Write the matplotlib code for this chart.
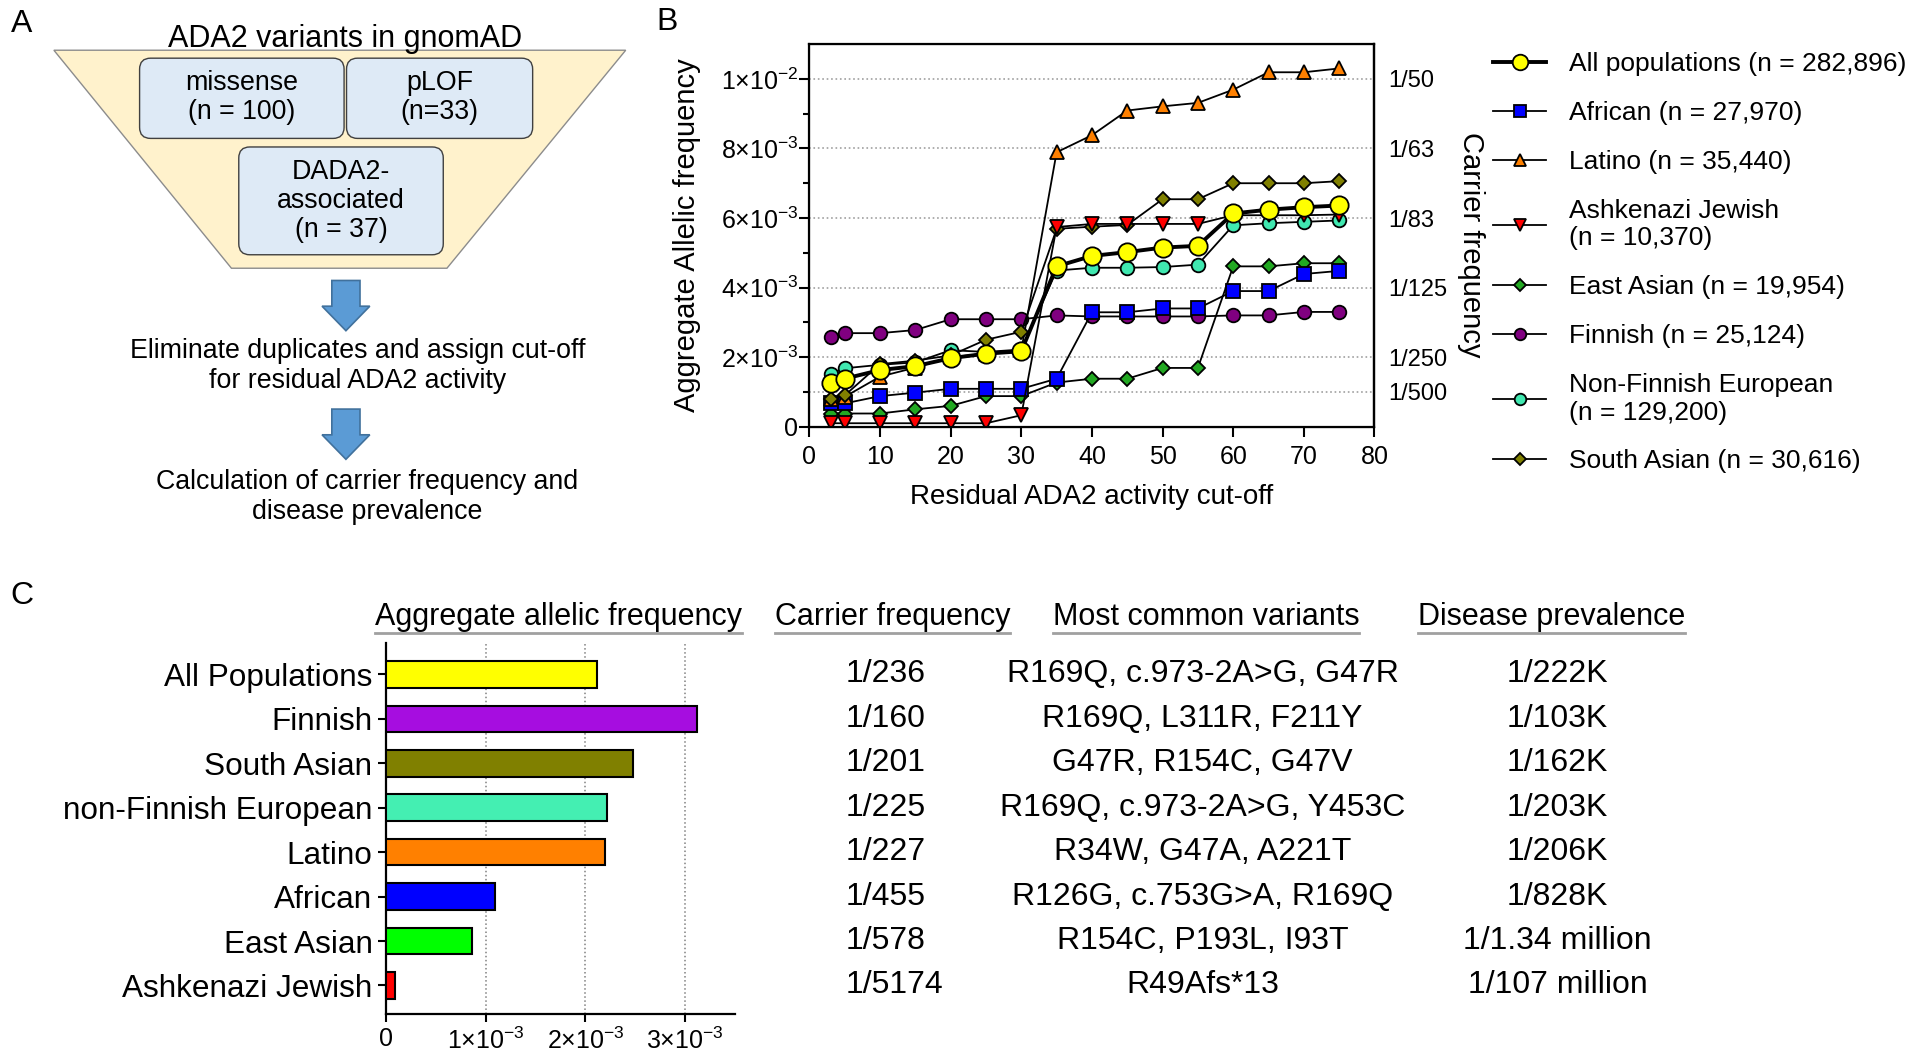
import matplotlib
matplotlib.use('Agg')
import matplotlib.pyplot as plt
import matplotlib.transforms as mtransforms
from matplotlib.patches import Polygon, FancyBboxPatch
from matplotlib.lines import Line2D

plt.rcParams['font.family'] = ['Liberation Sans', 'DejaVu Sans']
plt.rcParams['mathtext.default'] = 'regular'

# ---------------- panel B data (aggregate allelic frequency, x1e-3)
cutoff = [3, 5, 10, 15, 20, 25, 30, 35, 40, 45, 50, 55, 60, 65, 70, 75]
af_all = [1.27, 1.38, 1.63, 1.74, 1.97, 2.10, 2.17, 4.61, 4.91, 5.02, 5.15, 5.20, 6.13, 6.24, 6.31, 6.36]
af_afr = [0.67, 0.67, 0.88, 0.98, 1.09, 1.09, 1.09, 1.38, 3.29, 3.29, 3.40, 3.40, 3.90, 3.90, 4.39, 4.48]
af_lat = [0.80, 0.86, 1.44, 1.70, 2.00, 2.10, 2.20, 7.89, 8.38, 9.09, 9.21, 9.31, 9.69, 10.19, 10.19, 10.30]
af_asj = [0.10, 0.10, 0.10, 0.10, 0.10, 0.10, 0.33, 5.74, 5.83, 5.83, 5.83, 5.83, 6.08, 6.08, 6.08, 6.10]
af_eas = [0.38, 0.38, 0.38, 0.50, 0.60, 0.88, 0.88, 1.27, 1.38, 1.38, 1.69, 1.69, 4.61, 4.61, 4.70, 4.70]
af_fin = [2.59, 2.69, 2.69, 2.78, 3.09, 3.09, 3.09, 3.20, 3.17, 3.17, 3.17, 3.17, 3.20, 3.20, 3.30, 3.30]
af_nfe = [1.52, 1.68, 1.78, 1.85, 2.20, 2.15, 2.22, 4.49, 4.57, 4.57, 4.59, 4.66, 5.79, 5.85, 5.89, 5.93]
af_sas = [0.80, 0.90, 1.80, 1.90, 2.05, 2.50, 2.73, 5.69, 5.75, 5.80, 6.54, 6.54, 7.00, 7.00, 7.00, 7.06]

legend_labels = ['All populations (n = 282,896)', 'African (n = 27,970)', 'Latino (n = 35,440)',
                 'Ashkenazi Jewish\n(n = 10,370)', 'East Asian (n = 19,954)', 'Finnish (n = 25,124)',
                 'Non-Finnish European\n(n = 129,200)', 'South Asian (n = 30,616)']

carrier_af = [1e-2, 8e-3, 6e-3, 4e-3, 2e-3, 1e-3]
carrier_labels = ['1/50', '1/63', '1/83', '1/125', '1/250', '1/500']

# ---------------- panel C data
pops_c = ['All Populations', 'Finnish', 'South Asian', 'non-Finnish European',
          'Latino', 'African', 'East Asian', 'Ashkenazi Jewish']
af_c = [2.12e-3, 3.12e-3, 2.48e-3, 2.22e-3, 2.20e-3, 1.09e-3, 0.86e-3, 0.09e-3]
bar_colors = ['#FFFF00', '#A60DE0', '#808000', '#44EFB2', '#FF8000', '#0000FF', '#00FF00', '#FF0000']
carrier_c = ['1/236', '1/160', '1/201', '1/225', '1/227', '1/455', '1/578', '1/5174']
variants_c = ['R169Q, c.973-2A>G, G47R', 'R169Q, L311R, F211Y', 'G47R, R154C, G47V',
              'R169Q, c.973-2A>G, Y453C', 'R34W, G47A, A221T', 'R126G, c.753G>A, R169Q',
              'R154C, P193L, I93T', 'R49Afs*13']
prevalence_c = ['1/222K', '1/103K', '1/162K', '1/203K', '1/206K', '1/828K',
                '1/1.34 million', '1/107 million']

W, H = 1568, 863


def fx(x):
    return x / W


def fy(y):
    return 1 - y / H


fig = plt.figure(figsize=(19.2, 10.57), dpi=100)

# ================= panel A (flow diagram)
axA = fig.add_axes([0, 0, 1, 1])
axA.set_xlim(0, W)
axA.set_ylim(H, 0)
axA.axis('off')

axA.add_patch(Polygon([(44, 41), (511, 41), (365, 219), (189, 219)],
                      closed=True, fc='#FFF2CC', ec='#8C8C8C', lw=1))
for (bx, by, bw, bh) in [(114, 47.5, 167, 65.5), (283, 47.5, 152, 65.5), (195, 120, 167, 88)]:
    axA.add_patch(FancyBboxPatch((bx, by), bw, bh, boxstyle='round,pad=0,rounding_size=9',
                                 fc='#DEEAF6', ec='#404040', lw=1))
for dy in [0, 105]:
    pts = [(271, 229), (294, 229), (294, 250), (302, 250), (282.5, 270), (263, 250), (271, 250)]
    axA.add_patch(Polygon([(p[0], p[1] + dy) for p in pts], closed=True,
                          fc='#5B9BD5', ec='#41719C', lw=1.2))

fsA = 19.3
axA.text(282, 38, 'ADA2 variants in gnomAD', ha='center', va='baseline', fontsize=22)
axA.text(197.5, 80, 'missense\n(n = 100)', ha='center', va='center', fontsize=fsA, linespacing=1.15)
axA.text(359, 80, 'pLOF\n(n=33)', ha='center', va='center', fontsize=fsA, linespacing=1.15)
axA.text(278.5, 164, 'DADA2-\nassociated\n(n = 37)', ha='center', va='center', fontsize=fsA,
         linespacing=1.15)
axA.text(292, 299, 'Eliminate duplicates and assign cut-off\nfor residual ADA2 activity',
         ha='center', va='center', fontsize=fsA, linespacing=1.2)
axA.text(300, 406, 'Calculation of carrier frequency and\ndisease prevalence',
         ha='center', va='center', fontsize=fsA, linespacing=1.2)

for letter, lx, ly in [('A', 18, 20), ('B', 545, 18), ('C', 18, 487)]:
    fig.text(fx(lx), fy(ly), letter, fontsize=23, ha='center', va='center')

# ================= panel B
axB = fig.add_axes([fx(661), fy(348.4), fx(1122.5) - fx(661), fy(36) - fy(348.4)])
for v in carrier_af:
    axB.axhline(v, color='#A0A0A0', ls=':', lw=1.2, zorder=0)

series = [
    (af_fin, 'o', '#800080', 9.8, 1.3),
    (af_eas, 'D', '#22A822', 7.5, 1.3),
    (af_afr, 's', '#0000FF', 9.8, 1.3),
    (af_lat, '^', '#FF8000', 10.5, 1.3),
    (af_nfe, 'o', '#40E8B0', 9.8, 1.3),
    (af_sas, 'D', '#808000', 7.5, 1.3),
    (af_asj, 'v', '#FF0000', 10.5, 1.3),
    (af_all, 'o', '#FFFF00', 13.2, 2.8),
]
handles = {}
for vals, mk, col, ms, lw in series:
    ln, = axB.plot(cutoff, [v * 1e-3 for v in vals], color='black', lw=lw, marker=mk,
                   ms=ms, mfc=col, mec='black', mew=1.3)
    handles[col] = ln

axB.set_xlim(0, 80)
axB.set_ylim(0, 0.0110)
axB.set_xticks(range(0, 81, 10))
axB.set_yticks([0, 2e-3, 4e-3, 6e-3, 8e-3, 1e-2])
axB.set_yticklabels(['0', r'$2{\times}10^{-3}$', r'$4{\times}10^{-3}$', r'$6{\times}10^{-3}$',
                     r'$8{\times}10^{-3}$', r'$1{\times}10^{-2}$'])
axB.set_yticks([1e-3, 3e-3, 5e-3, 7e-3, 9e-3], minor=True)
axB.tick_params(axis='both', which='major', labelsize=18, width=1.5, length=7, direction='out')
axB.tick_params(axis='y', which='major', pad=1)
axB.tick_params(axis='x', which='major', pad=6)
axB.tick_params(axis='y', which='minor', width=1.5, length=4)
for sp in axB.spines.values():
    sp.set_linewidth(1.6)
axB.set_xlabel('Residual ADA2 activity cut-off', fontsize=20)
axB.xaxis.label.set_va('center')
axB.xaxis.set_label_coords(0.5, -0.183)
axB.set_ylabel('Aggregate Allelic frequency', fontsize=21)
axB.yaxis.label.set_va('center')
axB.yaxis.set_label_coords(-0.216, 0.5)

axB2 = axB.twinx()
axB2.set_ylim(axB.get_ylim())
axB2.set_yticks(carrier_af)
axB2.set_yticklabels(carrier_labels)
axB2.tick_params(axis='y', length=0, labelsize=17, pad=10)
axB2.set_ylabel('Carrier frequency', fontsize=21, rotation=270)
axB2.yaxis.label.set_va('center')
axB2.yaxis.set_label_coords(1.17, 0.475)
axB2.spines['right'].set_linewidth(1.6)

order = ['#FFFF00', '#0000FF', '#FF8000', '#FF0000', '#22A822', '#800080', '#40E8B0', '#808000']
fig.legend([handles[c] for c in order], legend_labels, loc='upper left',
           bbox_to_anchor=(fx(1211), fy(34)), borderaxespad=0, frameon=False, fontsize=19,
           handlelength=2.0, labelspacing=0.94, markerscale=0.85, handletextpad=0.87)

# ================= panel C
axC = fig.add_axes([fx(315.5), fy(828), fx(600) - fx(315.5), fy(524.8) - fy(828)])
ypos = list(range(len(pops_c)))
axC.barh(ypos, af_c, height=0.6, color=bar_colors, edgecolor='black', lw=1.5, zorder=3)
axC.set_ylim(len(pops_c) - 1 + 0.645, -0.712)
axC.set_xlim(0, 3.5e-3)
axC.set_yticks(ypos)
axC.set_yticklabels(pops_c, fontsize=22.7)
axC.set_xticks([0, 1e-3, 2e-3, 3e-3])
axC.set_xticklabels(['0', r'$1{\times}10^{-3}$', r'$2{\times}10^{-3}$', r'$3{\times}10^{-3}$'],
                    fontsize=18)
axC.xaxis.grid(True, ls=':', color='#808080', lw=1.1, zorder=0)
axC.spines['top'].set_visible(False)
axC.spines['right'].set_visible(False)
axC.spines['left'].set_linewidth(1.6)
axC.spines['bottom'].set_linewidth(1.6)
axC.tick_params(axis='both', width=1.5, length=6)
axC.tick_params(axis='y', pad=4)

headers = [('Aggregate allelic frequency', 456), ('Carrier frequency', 729),
           ('Most common variants', 985), ('Disease prevalence', 1267)]
header_texts = []
for txt, hx in headers:
    t = fig.text(fx(hx), fy(510.4), txt, ha='center', va='baseline', fontsize=22)
    header_texts.append(t)

rowtrans = mtransforms.blended_transform_factory(fig.transFigure, axC.transData)
for i in ypos:
    fig.text(fx(691), i, carrier_c[i], transform=rowtrans, ha='left', va='center', fontsize=23)
    fig.text(fx(982), i, variants_c[i], transform=rowtrans, ha='center', va='center', fontsize=23)
    fig.text(fx(1272), i, prevalence_c[i], transform=rowtrans, ha='center', va='center', fontsize=23)

fig.canvas.draw()
rend = fig.canvas.get_renderer()
inv = fig.transFigure.inverted()
for t in header_texts:
    bb = t.get_window_extent(rend)
    (x0, _), (x1, _) = inv.transform([(bb.x0, bb.y0), (bb.x1, bb.y1)])
    fig.add_artist(Line2D([x0, x1], [fy(517), fy(517)], transform=fig.transFigure,
                          color='#A0A0A0', lw=2))

fig.savefig('out.png', dpi=100)
